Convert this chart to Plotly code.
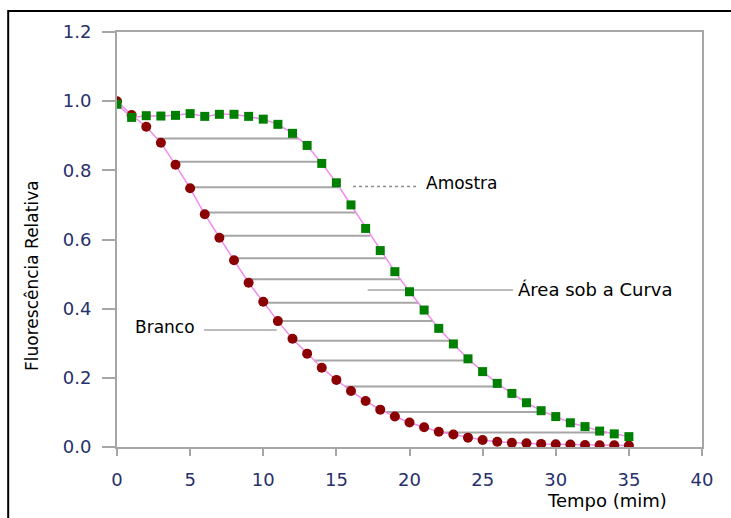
import numpy as np
import plotly.graph_objects as go

tempo = list(range(36))
branco = [1.0, 0.96, 0.926, 0.88, 0.816, 0.748, 0.673, 0.605, 0.54, 0.475, 0.42,
          0.364, 0.313, 0.27, 0.229, 0.194, 0.162, 0.133, 0.108, 0.088, 0.071,
          0.057, 0.044, 0.036, 0.027, 0.02, 0.015, 0.012, 0.011, 0.009, 0.008,
          0.007, 0.006, 0.005, 0.005, 0.004]
amostra = [0.991, 0.953, 0.958, 0.957, 0.959, 0.964, 0.956, 0.962, 0.962, 0.956, 0.948,
           0.933, 0.907, 0.872, 0.82, 0.764, 0.70, 0.632, 0.568, 0.507, 0.449,
           0.396, 0.343, 0.298, 0.255, 0.218, 0.184, 0.155, 0.128, 0.105, 0.088,
           0.070, 0.059, 0.046, 0.038, 0.030]
area_levels = [0.892, 0.825, 0.751, 0.678, 0.611, 0.546, 0.485, 0.417, 0.364,
               0.307, 0.250, 0.175, 0.101, 0.042]
x_ticks = [0, 5, 10, 15, 20, 25, 30, 35, 40]
y_ticks = [0.0, 0.2, 0.4, 0.6, 0.8, 1.0, 1.2]


def crossing(level, ts, vs):
    # last segment (scanning from the end) where the curve passes the level
    for i in range(len(vs) - 1, 0, -1):
        a, b = vs[i - 1], vs[i]
        if (a - level) * (b - level) <= 0 and a != b:
            return ts[i - 1] + (level - a) / (b - a) * (ts[i] - ts[i - 1])
    return ts[0]


GRAY = "#a6a6a6"
FONT = "DejaVu Sans"
fig = go.Figure()

# area hatch lines
hx, hy = [], []
for lv in area_levels:
    hx += [crossing(lv, tempo, branco), crossing(lv, tempo, amostra), None]
    hy += [lv, lv, None]
fig.add_trace(go.Scatter(x=hx, y=hy, mode="lines",
                         line=dict(color=GRAY, width=2), hoverinfo="skip"))

# leader lines
fig.add_trace(go.Scatter(x=[16.14, 20.5], y=[0.753, 0.753], mode="lines",
                         line=dict(color="#8c8c8c", width=1.5, dash="dot")))
fig.add_trace(go.Scatter(x=[17.14, 27.08], y=[0.454, 0.454], mode="lines",
                         line=dict(color=GRAY, width=1.5)))
fig.add_trace(go.Scatter(x=[5.95, 10.92], y=[0.338, 0.338], mode="lines",
                         line=dict(color=GRAY, width=1.5)))

fig.add_trace(go.Scatter(x=tempo, y=branco, mode="lines+markers", name="Branco",
                         line=dict(color="#f28cf0", width=1.5),
                         marker=dict(symbol="circle", size=10, color="#8b0000")))
fig.add_trace(go.Scatter(x=tempo, y=amostra, mode="lines+markers", name="Amostra",
                         line=dict(color="#f28cf0", width=1.5),
                         marker=dict(symbol="square", size=9, color="#008000")))

tickfont = dict(family=FONT, size=18, color="#27306b")
fig.update_layout(
    width=731, height=518,
    margin=dict(l=117, r=29, t=32, b=71),
    paper_bgcolor="white", plot_bgcolor="white",
    showlegend=False,
    xaxis=dict(range=[0, 40], tickvals=x_ticks, ticks="outside", ticklen=7,
               tickcolor=GRAY, tickwidth=2, showline=True, linecolor=GRAY,
               linewidth=2, mirror=True, showgrid=False, zeroline=False,
               tickfont=tickfont, ticklabelstandoff=8),
    yaxis=dict(range=[0, 1.2], tickvals=y_ticks, ticktext=[f"{v:.1f}" for v in y_ticks],
               ticks="outside", ticklen=13,
               tickcolor=GRAY, tickwidth=2, showline=True, linecolor=GRAY,
               linewidth=2, mirror=True, showgrid=False, zeroline=False,
               tickfont=tickfont, ticklabelstandoff=7),
    font=dict(family=FONT, color="black"),
)

ann_font = dict(family=FONT, size=17, color="black")
fig.add_annotation(x=21.0, y=0.763, xref="x", yref="y", text="Amostra",
                   showarrow=False, xanchor="left", yanchor="middle", font=ann_font)
fig.add_annotation(x=27.3, y=0.456, xref="x", yref="y", text="Área sob a Curva",
                   showarrow=False, xanchor="left", yanchor="middle",
                   font=dict(family=FONT, size=18, color="black"))
fig.add_annotation(x=5.5, y=0.348, xref="x", yref="y", text="Branco",
                   showarrow=False, xanchor="right", yanchor="middle", font=ann_font)
fig.add_annotation(x=-0.1453, y=0.4145, xref="paper", yref="paper",
                   text="Fluorescência Relativa", textangle=-90, showarrow=False,
                   xanchor="center", yanchor="middle",
                   font=dict(family=FONT, size=17, color="black"))
fig.add_annotation(x=0.8376, y=-0.129, xref="paper", yref="paper",
                   text="Tempo (mim)", showarrow=False,
                   xanchor="center", yanchor="middle",
                   font=dict(family=FONT, size=18, color="black"))

# outer frame (left and top edges visible)
fig.add_shape(type="rect", xref="paper", yref="paper",
              x0=-0.186, x1=1.1, y0=-0.3, y1=1.0506,
              line=dict(color="black", width=2))

fig.write_html("out.html")
